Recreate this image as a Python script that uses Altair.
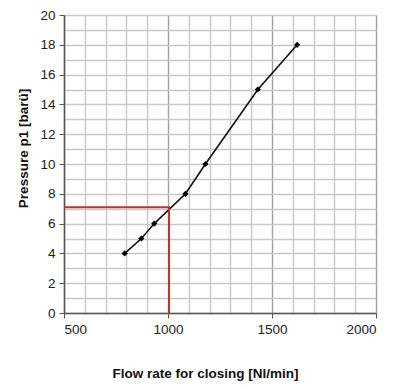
import altair as alt
import pandas as pd

flow = [792, 872, 934, 1084, 1180, 1432, 1621]
pressure = [4, 5, 6, 8, 10, 15, 18]

ref_flow = [500, 1005, 1005]
ref_pressure = [7.1, 7.1, 0]

x_ticks = list(range(500, 2001, 100))
y_ticks = list(range(0, 21, 1))

df = pd.DataFrame({"flow": flow, "pressure": pressure})
ref = pd.DataFrame({"flow": ref_flow, "pressure": ref_pressure, "order": [0, 1, 2]})

FONT = "Liberation Sans"

xscale = alt.Scale(domain=[500, 2000], nice=False)
yscale = alt.Scale(domain=[0, 20], nice=False)

xaxis = alt.Axis(
    values=x_ticks,
    tickCount=50,
    title="Flow rate for closing [Nl/min]",
    labelExpr="datum.value % 500 === 0 ? datum.label : ''",
    labelOverlap=False,
    format="d",
    gridColor=alt.condition("datum.value % 500 === 0", alt.value("#a0a0a0"), alt.value("#c8c8c8")),
    gridWidth=1.4,
    tickOpacity=alt.condition("datum.value % 500 === 0", alt.value(1), alt.value(0)),
    tickColor="#555",
    tickSize=5,
    domainColor="#555",
    domainWidth=1.5,
    labelFontSize=13.5,
    labelColor="#222",
    labelPadding=4,
    titleFontSize=13.5,
    titleFontWeight="bold",
    titleColor="#111",
    titlePadding=31,
    titleX=141,
)
yaxis = alt.Axis(
    values=y_ticks,
    tickCount=50,
    format="d",
    title="Pressure p1 [barü]",
    labelExpr="datum.value % 2 === 0 ? datum.label : ''",
    labelOverlap=False,
    gridColor="#c8c8c8",
    gridWidth=1.4,
    tickOpacity=alt.condition("datum.value % 2 === 0", alt.value(1), alt.value(0)),
    tickColor="#555",
    tickSize=5,
    domainColor="#555",
    domainWidth=1.5,
    labelFontSize=13.5,
    labelColor="#222",
    labelPadding=4,
    titleFontSize=13.5,
    titleFontWeight="bold",
    titleColor="#111",
    titlePadding=9,
    titleY=133,
)

line = alt.Chart(df).mark_line(color="#111", strokeWidth=1.6).encode(
    x=alt.X("flow:Q", scale=xscale, axis=xaxis),
    y=alt.Y("pressure:Q", scale=yscale, axis=yaxis),
)
pts = alt.Chart(df).mark_point(shape="diamond", filled=True, color="#000", size=38, opacity=1).encode(
    x="flow:Q", y="pressure:Q"
)
red = alt.Chart(ref).mark_line(color="#c0302c", strokeWidth=2).encode(
    x="flow:Q", y="pressure:Q", order="order:Q"
)

chart = alt.layer(line, red, pts).properties(
    width=312,
    height=298,
    autosize=alt.AutoSizeParams(type="none"),
    padding={"left": 56, "top": 7, "right": 16, "bottom": 74},
).configure(font=FONT).configure_view(stroke="#c8c8c8")

chart.save("out.html", embed_options={"renderer": "svg", "actions": False})
